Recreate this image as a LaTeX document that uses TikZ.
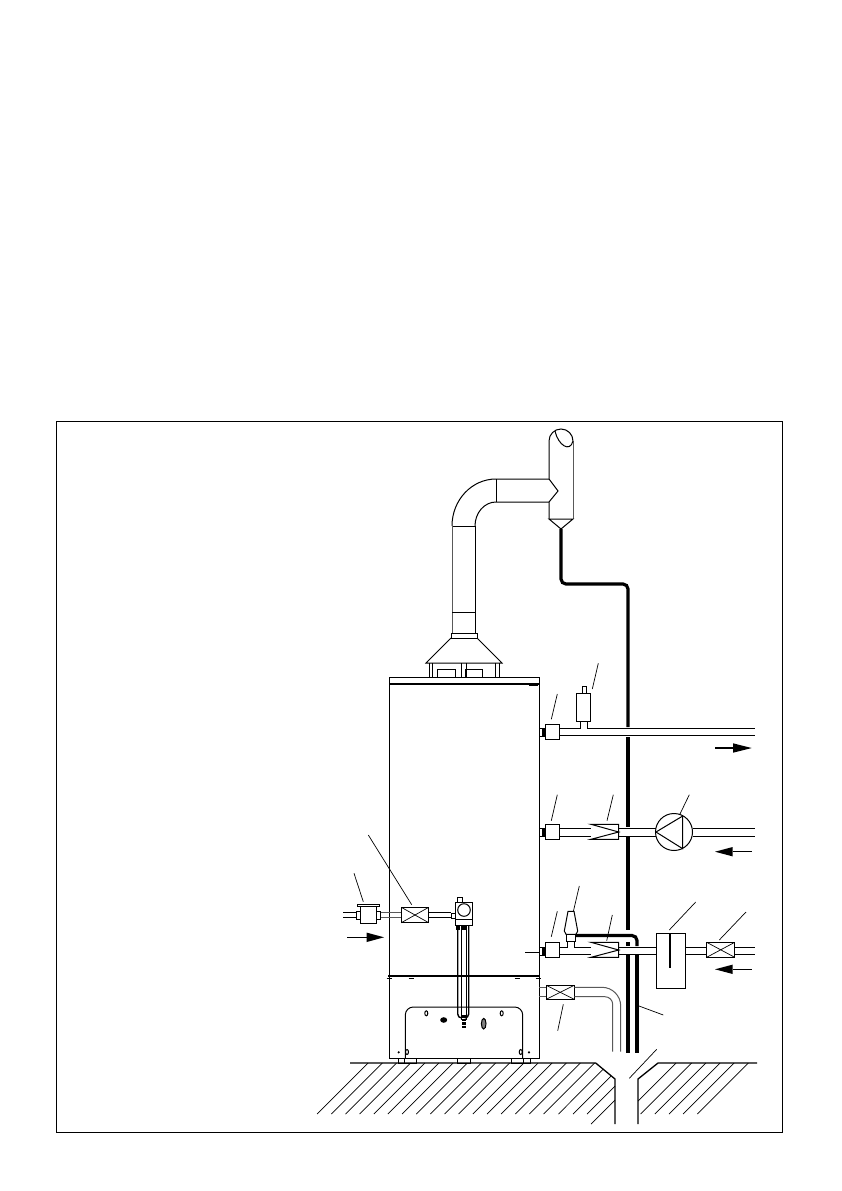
\documentclass[tikz,border=0pt]{standalone}
\tikzset{
line/.style={line width=1pt},
leader/.style={line width=0.7pt},
hatch/.style={line width=0.7pt},
wall/.style={line width=1.3pt},
hose/.style={line width=3.2pt,rounded corners=5pt},
band/.style={line width=1.6pt},
softline/.style={line width=1pt,black!65},
flow/.style={line width=1.3pt},
}
\begin{document}
\begin{tikzpicture}[x=1pt,y=-1pt]
\useasboundingbox (0,0) rectangle (841,1191);
\draw[line] (56,421) rectangle (782,1132);
% flue
\draw[line] (549,519) -- (549,502) -- (558,491) -- (549,479) -- (549,441) arc[start angle=180,end angle=360,radius=12];
\draw[softline] (573,441) -- (573,519);
\draw[line] (555,431) .. controls (558,445) and (570,453) .. (573,441);
\draw[line] (549,519) -- (573,519) -- (561,529) -- cycle;
\draw[line] (549,479) -- (496,479) arc[start angle=-90,end angle=-180,x radius=44,y radius=47];
\draw[line] (549,502) -- (496,502) arc[start angle=-90,end angle=-180,x radius=21,y radius=24];
\draw[line] (496,479) -- (496,502);
\draw[line] (452,526) -- (475,526);
\draw[softline] (452,526) -- (452,633);
\draw[line] (475,526) -- (475,633);
\draw[line] (452,612) -- (476,612);
\draw[line] (451,633) rectangle (477,638);
\draw[line] (451,638) -- (426,663) -- (502,663) -- (477,638);
\foreach \x in {429.5,432.5,461,466,495.5,499}
\draw[line] (\x,663) -- (\x,677);
\draw[line] (437,677) -- (437,669) -- (455,669) -- (455,677);
\draw[line] (465,677) -- (465,669) -- (482,669) -- (482,677);
% tank
\draw[line] (389,677) -- (389,1058) -- (539,1058) -- (539,677);
\draw[band] (389,677.5) -- (539,677.5);
\draw[band] (389,684) -- (539,684);
\fill (529,683) rectangle (538,685.5);
\draw[band] (388,975.7) -- (539,975.7);
\foreach \x in {389,411,517,538}
\draw[leader] (\x-2.5,978.5) -- (\x+2.5,978.5);
\draw[leader] (525,952.3) -- (539,952.3);
% panel
\draw[line,rounded corners=8pt] (405.3,1058) -- (405.3,1007) -- (522.7,1007) -- (522.7,1058);
\foreach \x/\y in {426.3/1013.3,501.7/1013.3,407/1052,520.7/1052}
\draw[line] (\x,\y) ellipse[x radius=1.5,y radius=2.5];
\fill (443.7,1020) ellipse[x radius=3.5,y radius=2.8];
\draw[line,fill=gray] (483.7,1023.7) ellipse[x radius=2.3,y radius=5.3];
\foreach \x in {398.7,529}
\fill (\x,1052.3) circle[radius=1.2];
% feet
\foreach \a/\b in {398.3/404.3,404.3/416.7,457.3/470,511.7/523.3,523.3/530}
\draw[leader] (\a,1058) -- (\a,1063) -- (\b,1063) -- (\b,1058);
% gas inlet
\draw[line] (343,912) -- (356.7,912);
\draw[line] (343,917.7) -- (356.7,917.7);
\draw[line] (356.7,911.7) rectangle (360,919.3);
\draw[line] (360,906.7) rectangle (376.7,923.3);
\draw[line] (357.3,904.3) rectangle (379.3,906.7);
\draw[line] (376.7,911.7) rectangle (380.7,919.3);
\draw[softline] (380.7,912) -- (401.3,912);
\draw[softline] (380.7,917.7) -- (401.3,917.7);
\draw[line] (401.3,907.3) rectangle (428.7,922.7);
\draw[leader] (401.3,907.3) -- (428.7,922.7);
\draw[leader] (401.3,922.7) -- (428.7,907.3);
\draw[line] (428.7,912) -- (451.3,912);
\draw[line] (428.7,917.7) -- (451.3,917.7);
\draw[line] (451.3,913.3) rectangle (455.3,918.7);
% control
\draw[line] (455.3,902.3) rectangle (472.7,925);
\draw[line] (455.3,919.3) -- (472.7,919.3);
\draw[line] (464,910) circle[radius=6.3];
\draw[line] (457.3,902.3) rectangle (462.7,897.7);
% burner
\draw[line width=1.4pt] (457.7,925) -- (457.7,1014) arc[start angle=180,end angle=90,radius=4];
\draw[line width=1.4pt] (468.7,925) -- (468.7,1014) arc[start angle=0,end angle=90,radius=4];
\draw[line] (461,925) -- (461,1020);
\draw[line] (466,925) -- (466,1020);
\fill (456,925) rectangle (460,930);
\fill (461,925) rectangle (467,930);
\draw[line width=4pt,dash pattern=on 2.5pt off 1pt] (463.5,1015) -- (463.5,1028);
% outgoing pipe
\draw[hose] (561,529) -- (561,584) -- (628,584) -- (628,727);
\draw[hose] (628,737) -- (628,827);
\draw[hose] (628,837) -- (628,930);
\draw[hose] (628,942) -- (628,946);
\draw[hose] (628,955) -- (628,1053);
\draw[hose] (576,935.5) -- (637,935.5) -- (637,946);
\draw[hose] (637,955) -- (637,1053);
% top row
\draw[line] (559.5,728.3) -- (580.7,728.3) -- (580.7,721.3);
\draw[line] (587.3,721.3) -- (587.3,728.3) -- (755,728.3);
\draw[line] (559.5,735.3) -- (755,735.3);
\draw[line] (545.3,724.3) rectangle (559.5,739.3);
\draw[leader] (539,728) rectangle (545,736);
\fill (541.5,727.5) rectangle (545.3,736.5);
\draw[line] (576.3,693.3) rectangle (590.7,721.3);
\draw[line] (582.3,686.3) rectangle (586.7,693.3);
% middle row
\draw[line] (559.5,828) -- (591,828);
\draw[line] (559.5,836) -- (591,836);
\draw[line] (545.3,824.3) rectangle (559.5,839.3);
\draw[leader] (539,828) rectangle (545,836);
\fill (541.5,827.5) rectangle (545.3,836.5);
\draw[line] (591,824.3) -- (618.7,824.3) -- (618.7,839.3) -- (591,839.3) -- (618.7,832) -- cycle;
\draw[line] (618.7,828) -- (656,828);
\draw[line] (618.7,836) -- (656,836);
\draw[line] (674,832) circle[radius=18.5];
\draw[line] (656,832) -- (682.7,816) -- (682.7,848.7) -- cycle;
\draw[line] (692.5,828) -- (755,828);
\draw[line] (692.5,836) -- (755,836);
% bottom row
\draw[line] (559.5,947.3) -- (567.3,947.3) -- (567.3,941);
\draw[line] (574.3,941) -- (574.3,947.3) -- (591,947.3);
\draw[line] (559.5,954.3) -- (591,954.3);
\draw[line] (545.3,942.3) rectangle (559.5,957.3);
\draw[leader] (539,947) rectangle (545,955);
\fill (541.5,946.5) rectangle (545.3,955.5);
\draw[line] (566.7,934.3) rectangle (575.3,941);
\draw[line] (568,911.3) -- (574,911.3) -- (577.7,931) -- (576,934.3) -- (566,934.3) -- (564.3,931) -- cycle;
\draw[line] (591,942.3) -- (618.7,942.3) -- (618.7,957.3) -- (591,957.3) -- (618.7,950) -- cycle;
\draw[line] (618.7,947.3) -- (656.7,947.3);
\draw[line] (618.7,954.3) -- (656.7,954.3);
\draw[line] (656.7,933.3) rectangle (685.7,988.3);
\draw[line width=1.6pt] (670,933.3) -- (670,967.7);
\draw[line] (685.7,947.3) -- (706.7,947.3);
\draw[line] (685.7,954.3) -- (706.7,954.3);
\draw[line] (706.7,942.3) rectangle (734.7,957.3);
\draw[leader] (706.7,942.3) -- (734.7,957.3);
\draw[leader] (706.7,957.3) -- (734.7,942.3);
\draw[line] (734.7,947.3) -- (755,947.3);
\draw[line] (734.7,954.3) -- (755,954.3);
% drain
\draw[softline] (539,987.3) -- (546.3,987.3);
\draw[softline] (539,996.7) -- (546.3,996.7);
\draw[line] (546.3,985.3) rectangle (574.3,999.3);
\draw[leader] (546.3,985.3) -- (574.3,999.3);
\draw[leader] (546.3,999.3) -- (574.3,985.3);
\draw[softline] (574.3,987.3) -- (602,987.3) arc[start angle=-90,end angle=0,radius=18.7] -- (620.7,1051.7);
\draw[softline] (574.3,996.7) -- (605,996.7) arc[start angle=-90,end angle=0,radius=7.7] -- (612.7,1051.7);
% arrows
\draw[flow] (715,748) -- (735,748);
\fill (733,743.3) -- (751.7,748) -- (733,752.7) -- cycle;
\draw[flow] (733,851.7) -- (751.7,851.7);
\fill (732.7,847) -- (715,851.7) -- (732.7,856.4) -- cycle;
\draw[flow] (733,969.3) -- (751.7,969.3);
\fill (732.7,964.6) -- (715,969.3) -- (732.7,974) -- cycle;
\draw[flow] (347.3,937.3) -- (367,937.3);
\fill (366.7,932.6) -- (384,937.3) -- (366.7,942) -- cycle;
% leaders
\foreach \xa/\ya/\xb/\yb in {
592.3/689/598.3/663.3,551.3/719.3/557.3/694,
551.3/820.7/557.3/794.7,607/820.7/613.3/794.7,680/814/689.3/794.7,
669.3/930/695.7/902,719.3/940/746/912,606.7/940.7/612.3/915,
551.3/936.7/557.3/911.3,573.3/911.7/579.3/886,
563.3/1004.3/557.7/1030.7,639/1006/663.3/1015,629.3/1078.3/656.7/1049.3,
368.3/835/411.7/904.7,354/873.3/363.3/901.7}
\draw[leader] (\xa,\ya) -- (\xb,\yb);
% floor
\draw[wall] (350,1063) -- (595.7,1063) -- (615,1079) -- (615,1124);
\draw[wall] (638,1124) -- (638,1079) -- (658,1063) -- (757,1063);
\foreach \k in {0,...,16}
\draw[hatch] ({368.2+14.15*\k},1063) -- ({368.2+14.15*\k-51},1114);
\draw[hatch] (603.4,1069) -- (558.5,1114);
\draw[hatch] (611,1076) -- (573,1114);
\draw[hatch] (615,1086) -- (587,1114);
\draw[hatch] (615,1100) -- (591,1124);
\draw[hatch] (676,1063) -- (638,1101);
\foreach \k in {1,...,5}
\draw[hatch] ({677.4+14.2*\k},1063) -- ({677.4+14.2*\k-51},1114);
\end{tikzpicture}
\end{document}
